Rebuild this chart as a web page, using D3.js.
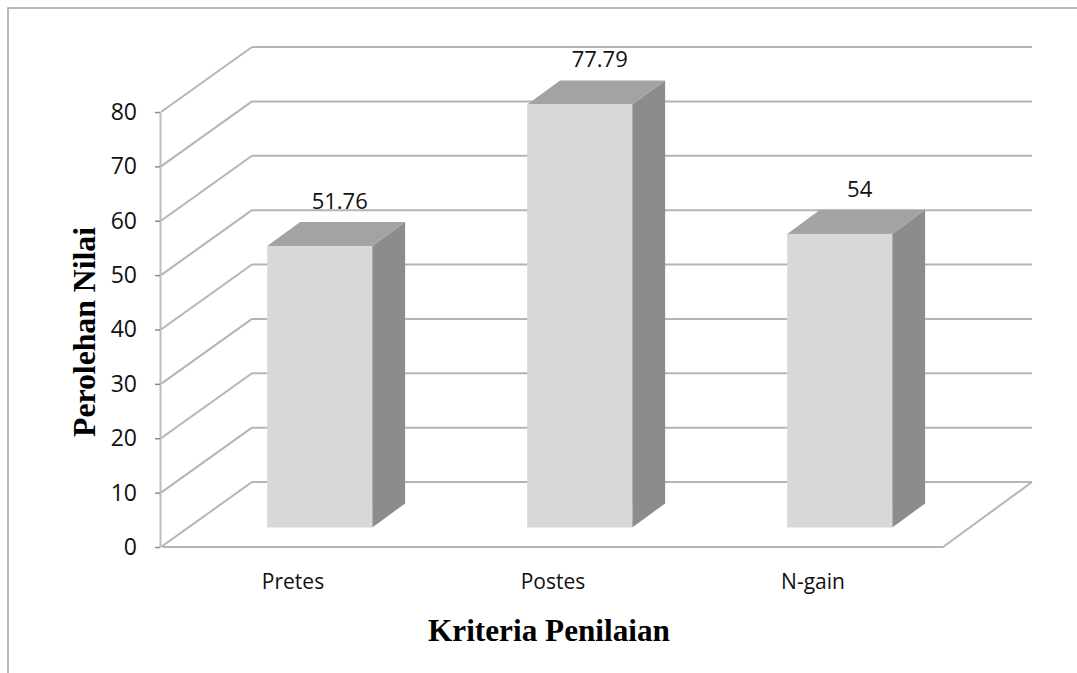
<!DOCTYPE html>
<html>
<head>
<meta charset="utf-8">
<script src="https://cdn.jsdelivr.net/npm/d3@7"></script>
<style>
  body { margin: 0; background: #fff; }
  svg { display: block; }
</style>
</head>
<body>
<div class="chart"></div>
<script>
// chart data
const categories = ['Pretes', 'Postes', 'N-gain'];
const values = [51.76, 77.79, 54];
const valueLabels = ['51.76', '77.79', '54'];
const yTicks = [0, 10, 20, 30, 40, 50, 60, 70, 80];

const width = 1077;
const height = 673;

// 3d depth of the box (back wall offset) and bar placement inside it
const depthX = 89, depthY = -65;
const barFront = 0.3, barDepth = 0.37;

const svg = d3.select('.chart')
    .append('svg')
    .attr('width', width)
    .attr('height', height);

// outer frame
svg.append('rect')
    .attr('x', 8).attr('y', 8)
    .attr('width', 1200).attr('height', 800)
    .attr('fill', 'none')
    .attr('stroke', '#a3a3a3')
    .attr('stroke-width', 1.5);

const x = d3.scaleBand()
    .domain(categories)
    .range([163, 943])
    .paddingInner(0.596)
    .paddingOuter(0.298);

const y = d3.scaleLinear()
    .domain([0, 80])
    .range([547, 112]);

const grid = svg.append('g').attr('stroke', '#b5b5b5').attr('stroke-width', 2).attr('fill', 'none');

// side wall diagonals
grid.selectAll('.diag')
    .data(yTicks)
    .join('line')
    .attr('x1', 161).attr('y1', d => y(d))
    .attr('x2', 163 + depthX).attr('y2', d => y(d) + depthY);

// back wall gridlines
grid.selectAll('.back')
    .data(yTicks)
    .join('line')
    .attr('x1', 163 + depthX).attr('y1', d => y(d) + depthY)
    .attr('x2', 943 + depthX).attr('y2', d => y(d) + depthY);

// floor front and right edges
grid.append('path')
    .attr('d', `M163,${y(0)}H943L${943 + depthX},${y(0) + depthY}`);

// y axis
const yAxis = svg.append('g')
    .attr('transform', 'translate(160,0)')
    .call(d3.axisLeft(y).tickValues(yTicks).tickSize(5).tickSizeOuter(0).tickPadding(18));
yAxis.select('.domain').attr('stroke', '#bdbdbd').attr('stroke-width', 2);
yAxis.selectAll('.tick line').attr('stroke', '#8c8c8c').attr('stroke-width', 1.5);
yAxis.selectAll('.tick text')
    .attr('font-family', '"Open Sans", sans-serif')
    .attr('font-size', 23)
    .attr('fill', '#111');

// bars
const fx = depthX * barFront, fy = depthY * barFront;
const sx = depthX * barDepth, sy = depthY * barDepth;
const bars = svg.append('g').selectAll('g')
    .data(categories.map((c, i) => ({ cat: c, value: values[i], label: valueLabels[i] })))
    .join('g');

bars.each(function (d) {
    const g = d3.select(this);
    const xl = x(d.cat) + fx;
    const xr = xl + x.bandwidth();
    const yt = y(d.value) + fy;
    const yb = y(0) + fy;
    g.append('path')
        .attr('d', `M${xr},${yt}L${xr + sx},${yt + sy}V${yb + sy}L${xr},${yb}Z`)
        .attr('fill', '#8c8c8c');
    g.append('path')
        .attr('d', `M${xl},${yt}L${xl + sx},${yt + sy}H${xr + sx}L${xr},${yt}Z`)
        .attr('fill', '#a3a3a3');
    g.append('rect')
        .attr('x', xl).attr('y', yt)
        .attr('width', x.bandwidth()).attr('height', yb - yt)
        .attr('fill', '#d8d8d8');
    g.append('text')
        .attr('x', xl + x.bandwidth() / 2 + 20)
        .attr('y', yt + sy - 13)
        .attr('text-anchor', 'middle')
        .attr('font-family', '"Open Sans", sans-serif')
        .attr('font-size', 22)
        .attr('fill', '#111')
        .text(d.label);
});

// category axis
const xAxis = svg.append('g')
    .attr('transform', `translate(0,${y(0)})`)
    .call(d3.axisBottom(x).tickSize(0).tickPadding(27));
xAxis.select('.domain').remove();
xAxis.selectAll('.tick text')
    .attr('font-family', '"Open Sans", sans-serif')
    .attr('font-size', 21)
    .attr('fill', '#111');

// axis titles
svg.append('text')
    .attr('x', 549).attr('y', 641)
    .attr('text-anchor', 'middle')
    .attr('font-family', '"Liberation Serif", "Times New Roman", serif')
    .attr('font-weight', 'bold')
    .attr('font-size', 31)
    .attr('textLength', 242)
    .attr('lengthAdjust', 'spacingAndGlyphs')
    .text('Kriteria Penilaian');

svg.append('text')
    .attr('transform', 'translate(95,332) rotate(-90)')
    .attr('text-anchor', 'middle')
    .attr('font-family', '"Liberation Serif", "Times New Roman", serif')
    .attr('font-weight', 'bold')
    .attr('font-size', 31)
    .attr('textLength', 210)
    .attr('lengthAdjust', 'spacingAndGlyphs')
    .text('Perolehan Nilai');
</script>
</body>
</html>
